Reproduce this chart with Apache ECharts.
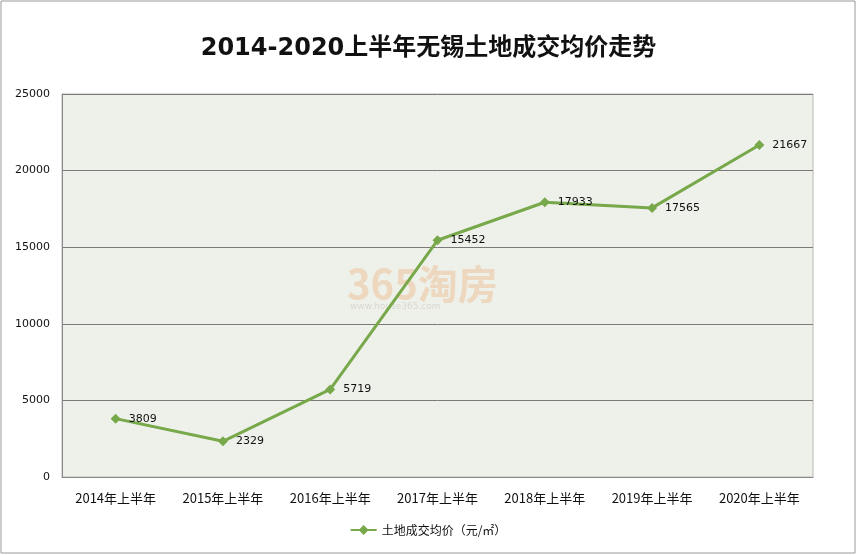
<!DOCTYPE html>
<html><head><meta charset="utf-8">
<script src="https://cdn.jsdelivr.net/npm/echarts@6/dist/echarts.min.js"></script>
<style>html,body{margin:0;padding:0;background:#fff}#c{width:857px;height:555px}</style>
</head><body><div id="c"></div>
<script>
const categories = ['2014年上半年','2015年上半年','2016年上半年','2017年上半年','2018年上半年','2019年上半年','2020年上半年'];
const prices = [3809, 2329, 5719, 15452, 17933, 17565, 21667];
const seriesName = '土地成交均价（元/㎡）';
const titleText = '2014-2020上半年无锡土地成交均价走势';

const chart = echarts.init(document.getElementById('c'), null, {renderer:'canvas'});
chart.setOption({
  backgroundColor:'#fff',
  animation:false,
  title:{text:titleText,left:'center',top:32,
    textStyle:{fontSize:24,fontWeight:'bold',color:'#111',fontFamily:'DejaVu Sans, Noto Sans CJK SC'}},
  legend:{bottom:14,left:'center',itemWidth:26,itemHeight:10,itemGap:10,
    data:[{name:seriesName,icon:'path://M0,4 L9,4 L13,0 L17,4 L26,4 L26,6 L17,6 L13,10 L9,6 L0,6 Z'}],
    textStyle:{fontSize:12,color:'#111',fontFamily:'Noto Sans CJK SC'}},
  grid:{left:62,right:44,top:94,bottom:78,show:true,backgroundColor:'#eef0ea',borderColor:'#b8bab4',borderWidth:1},
  xAxis:{type:'category',data:categories,boundaryGap:true,
    axisLine:{show:true,lineStyle:{color:'#888'}},axisTick:{show:false},
    axisLabel:{fontSize:13,color:'#111',margin:15,fontFamily:'Noto Sans CJK SC'}},
  yAxis:{type:'value',min:0,max:25000,interval:5000,
    axisLine:{show:true,lineStyle:{color:'#888'}},axisTick:{show:false},
    splitLine:{lineStyle:{color:'#7a7a7a',width:1}},
    axisLabel:{fontSize:11,color:'#111',margin:12,fontFamily:'DejaVu Sans',formatter:v=>String(v)}},
  graphic:[
    {type:'rect',shape:{x:1,y:1,width:854,height:552},style:{fill:'none',stroke:'#999',lineWidth:1},z:0},
    {type:'text',left:347,top:264,z:1,style:{text:'365淘房',fill:'rgba(236,170,110,0.35)',font:'bold 40px "Noto Sans CJK SC"'}},
    {type:'text',left:350,top:302,z:1,style:{text:'www.house365.com',fill:'rgba(180,170,160,0.35)',font:'9px "DejaVu Sans"'}}
  ],
  series:[{
    name:seriesName,type:'line',data:prices,
    symbol:'diamond',symbolSize:10,
    lineStyle:{color:'#77a84a',width:3},
    itemStyle:{color:'#77a84a'},
    label:{show:true,position:'right',distance:8,fontSize:11,color:'#111',fontFamily:'DejaVu Sans'},
    z:3
  }]
});
</script></body></html>
